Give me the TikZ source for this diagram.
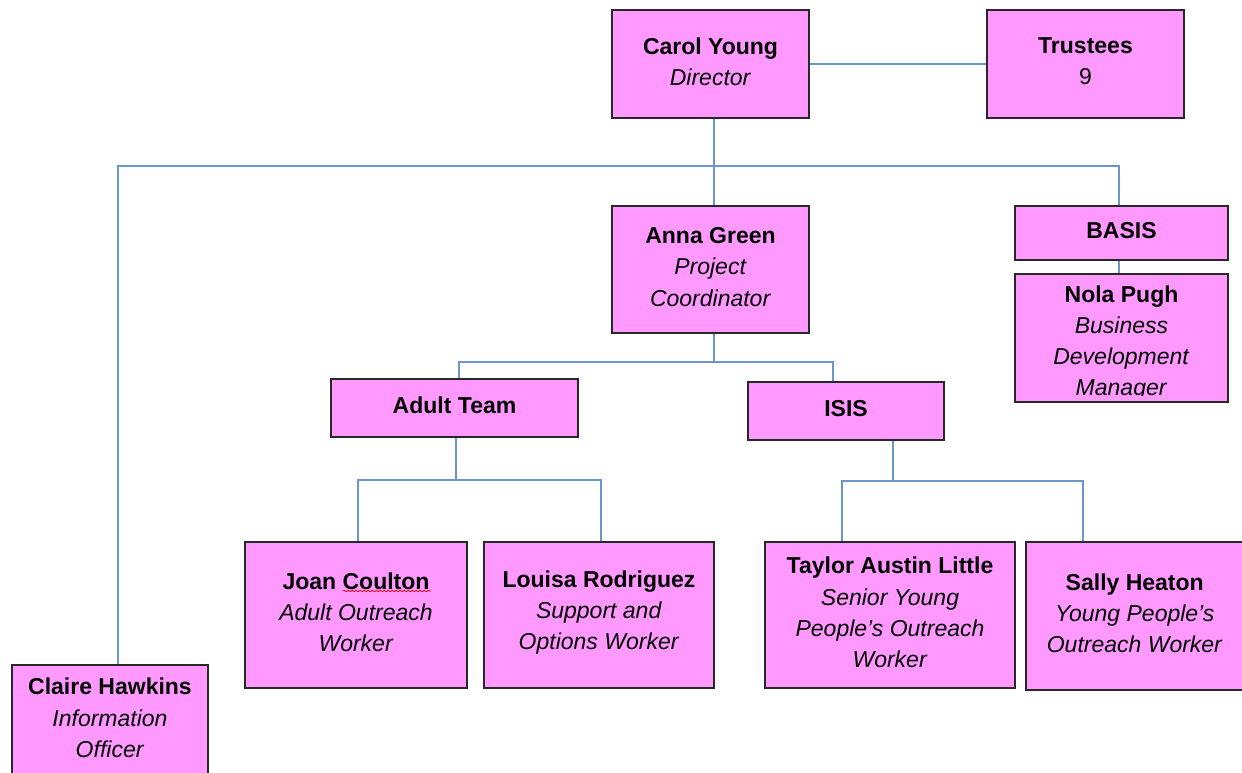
\documentclass[tikz,border=0pt]{standalone}
\usepackage{fontspec}
\setmainfont{Liberation Sans}
\usetikzlibrary{decorations.pathmorphing}
\definecolor{boxpink}{HTML}{FF99FF}
\definecolor{linkblue}{HTML}{6A96CC}
\definecolor{boxline}{HTML}{282828}
\begin{document}
\begin{tikzpicture}[x=0.5pt,y=-0.5pt,
  orgbox/.style={draw=boxline, line width=0.85pt, fill=boxpink, inner sep=0pt},
  orgtext/.style={align=center, inner sep=0pt, yshift=1.3pt,
    font=\fontsize{11.5}{15.6}\selectfont},
  link/.style={draw=linkblue, line width=0.7pt},
  spell/.style={draw=red!85!black, line width=0.35pt, decorate,
    decoration={snake, amplitude=0.35pt, segment length=2pt}}]
\useasboundingbox (0,0) rectangle (1242,772);

\node[orgbox, minimum width=98.5pt, minimum height=54pt,
  label={[orgtext]center:{\textbf{Carol Young}\\\textit{Director}}}] (carol) at (710.5,64) {};
\node[orgbox, minimum width=98.5pt, minimum height=54pt,
  label={[orgtext]center:{\textbf{Trustees}\\9}}] (trustees) at (1085.5,64) {};
\node[orgbox, minimum width=98.5pt, minimum height=63.5pt,
  label={[orgtext]center:{\textbf{Anna Green}\\\textit{Project}\\\textit{Coordinator}}}] (anna) at (710.5,269.5) {};
\node[orgbox, minimum width=106.5pt, minimum height=27pt,
  label={[orgtext]center:{\textbf{BASIS}}}] (basis) at (1121.5,233) {};
\node[orgbox, minimum width=106.5pt, minimum height=64pt,
  path picture={
    \begin{scope}
      \clip ([yshift=3.5pt]path picture bounding box.south west) rectangle (path picture bounding box.north east);
      \node[orgtext, yshift=-3.8pt] at (path picture bounding box.center)
        {\textbf{Nola Pugh}\\\textit{Business}\\\textit{Development}\\\textit{Manager}};
    \end{scope}}] (nola) at (1121.5,338) {};
\node[orgbox, minimum width=123.5pt, minimum height=29pt,
  label={[orgtext]center:{\textbf{Adult Team}}}] (adult) at (454.5,408) {};
\node[orgbox, minimum width=98pt, minimum height=29pt,
  label={[orgtext]center:{\textbf{ISIS}}}] (isis) at (846,411) {};
\node[orgbox, minimum width=111pt, minimum height=73pt,
  label={[orgtext]center:{\textbf{Joan Coulton}\\\textit{Adult Outreach}\\\textit{Worker}}}] (joan) at (356,615) {};
\node[orgbox, minimum width=115pt, minimum height=73pt,
  label={[orgtext]center:{\textbf{Louisa Rodriguez}\\\textit{Support and}\\\textit{Options Worker}}}] (louisa) at (599,615) {};
\node[orgbox, minimum width=125pt, minimum height=73pt,
  label={[orgtext]center:{\textbf{Taylor Austin Little}\\\textit{Senior Young}\\\textit{People's Outreach}\\\textit{Worker}}}] (taylor) at (890,615) {};
\node[orgbox, minimum width=108.5pt, minimum height=74pt,
  label={[orgtext]center:{\textbf{Sally Heaton}\\\textit{Young People's}\\\textit{Outreach Worker}}}] (sally) at (1134.75,616) {};
\node[orgbox, minimum width=98pt, minimum height=55.5pt,
  label={[orgtext]center:{\textbf{Claire Hawkins}\\\textit{Information}\\\textit{Officer}}}] (claire) at (110,720.5) {};

% spell-check underline
\coordinate (sp1) at (343,591);
\coordinate (sp2) at (431,591);
\draw[spell] (sp1) -- (sp2);

% connectors
\coordinate (j1) at (714,166);
\coordinate (bl) at (118,166);
\coordinate (br) at (1119,166);
\draw[link] (carol.east) -- (trustees.west);
\draw[link] (carol.south -| j1) -- (j1) -- (anna.north -| j1);
\draw[link] (claire.north -| bl) -- (bl) -- (br) -- (basis.north -| br);
\draw[link] (basis.south -| br) -- (nola.north -| br);

\coordinate (j2) at (714,362);
\coordinate (al) at (459,362);
\coordinate (ar) at (833,362);
\draw[link] (anna.south -| j2) -- (j2);
\draw[link] (adult.north -| al) -- (al) -- (ar) -- (isis.north -| ar);

\coordinate (j3) at (456,480);
\coordinate (cl) at (358,480);
\coordinate (cr) at (601,480);
\draw[link] (adult.south -| j3) -- (j3);
\draw[link] (joan.north -| cl) -- (cl) -- (cr) -- (louisa.north -| cr);

\coordinate (j4) at (893,481);
\coordinate (dl) at (842,481);
\coordinate (dr) at (1083,481);
\draw[link] (isis.south -| j4) -- (j4);
\draw[link] (taylor.north -| dl) -- (dl) -- (dr) -- (sally.north -| dr);
\end{tikzpicture}
\end{document}
